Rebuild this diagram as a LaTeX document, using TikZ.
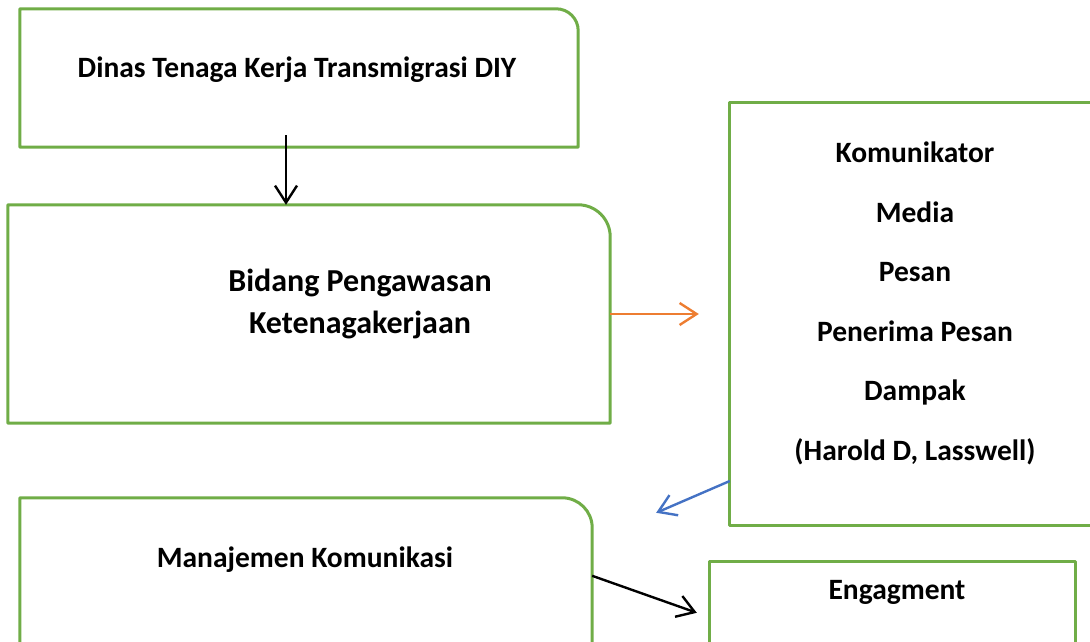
\documentclass[tikz,border=0pt]{standalone}
\usepackage{fontspec}
\setmainfont{Carlito}
\usetikzlibrary{arrows.meta}
\definecolor{boxgreen}{HTML}{70AD47}
\definecolor{arrorange}{HTML}{ED7D31}
\definecolor{arrblue}{HTML}{4472C4}
\tikzset{
  frame/.style={draw=none, inner sep=0pt, minimum width=#1},
  edge/.style={draw=boxgreen, line width=3pt, line join=round},
  lbl/.style={inner sep=0pt, align=center, font=\fontsize{29.5}{42}\selectfont\bfseries},
  conn/.style={line width=2.4pt, -{Straight Barb[length=17pt,width=22pt,line width=2.4pt]}},
}
\begin{document}
\begin{tikzpicture}[x=1pt,y=1pt]
\useasboundingbox (0,0) rectangle (1090,641);
% box frames (invisible nodes)
\node[frame=558pt, minimum height=138pt] (dinas) at (299,563) {};
\node[frame=602pt, minimum height=218pt] (bid) at (309,327) {};
\node[frame=370pt, minimum height=422pt] (kom) at (915,327) {};
\node[frame=572pt, minimum height=202pt] (man) at (306,42) {};
\node[frame=365pt, minimum height=138pt] (eng) at (892.5,10) {};
% outlines
\draw[edge] (dinas.south west) -- (dinas.north west) -- ([xshift=-22pt]dinas.north east)
  arc[start angle=90,end angle=0,radius=22pt] -- (dinas.south east) -- cycle;
\draw[edge] (bid.south west) -- (bid.north west) -- ([xshift=-32pt]bid.north east)
  arc[start angle=90,end angle=0,radius=32pt] -- (bid.south east) -- cycle;
\draw[edge] (kom.south west) rectangle (kom.north east);
\draw[edge] (man.south west) -- (man.north west) -- ([xshift=-30pt]man.north east)
  arc[start angle=90,end angle=0,radius=30pt] -- (man.south east) -- cycle;
\draw[edge] (eng.south west) rectangle (eng.north east);
% texts
\node[lbl] (tdinas) at (297,571) {Dinas Tenaga Kerja Transmigrasi DIY};
\node[lbl, font=\fontsize{32}{42}\selectfont\bfseries] (tbid) at (360,337) {Bidang Pengawasan\\Ketenagakerjaan};
\node[lbl, font=\fontsize{29.5}{59.5}\selectfont\bfseries] (tkom) at (915,337.5)
  {Komunikator\\Media\\Pesan\\Penerima Pesan\\Dampak\\(Harold D, Lasswell)};
\node[lbl] (tman) at (305,81) {Manajemen Komunikasi};
\node[lbl] (teng) at (897,49) {Engagment};
% connectors
\draw[conn, black] ([xshift=-13pt,yshift=12pt]dinas.south) -- ([xshift=-23pt]bid.north);
\draw[conn, arrorange] (bid.east) -- ([xshift=-31pt]kom.west);
\draw[conn, arrblue] ([yshift=-167pt]kom.west) -- ([xshift=64pt,yshift=-15pt]man.north east);
\draw[conn, black] ([yshift=-78pt]man.north east) -- ([xshift=-13pt,yshift=-51pt]eng.north west);
\end{tikzpicture}
\end{document}
